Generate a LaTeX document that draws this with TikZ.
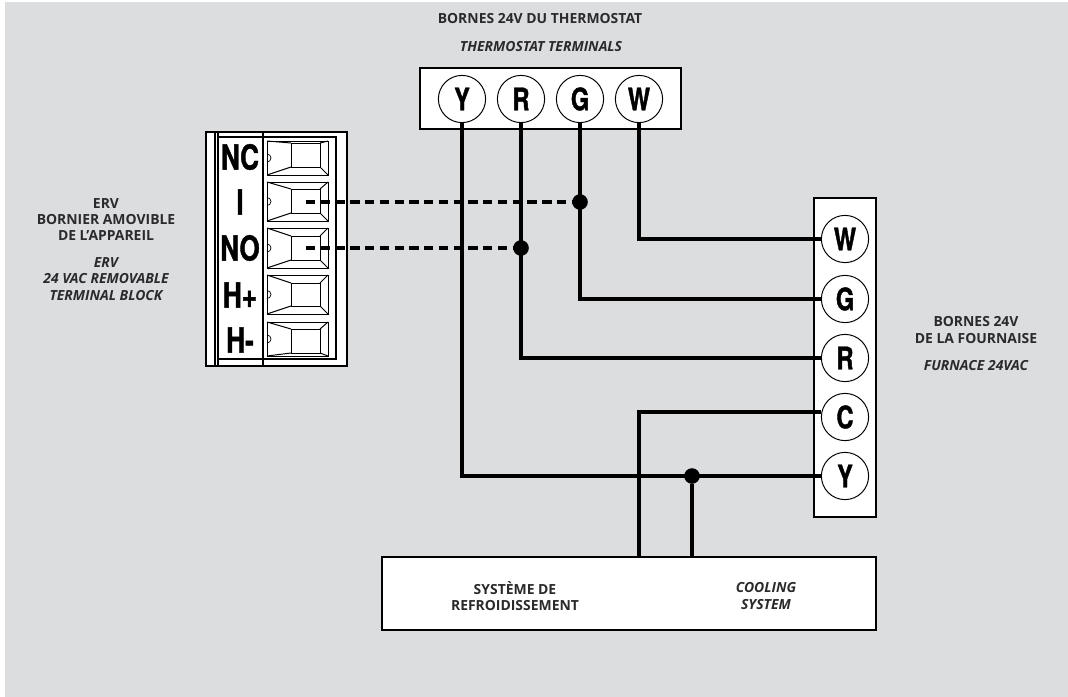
\documentclass[tikz,border=0pt]{standalone}
\usepackage{fontspec}
\setmainfont{Open Sans}
\newfontfamily\termfont[FakeStretch=0.76,FakeBold=1.2]{TeX Gyre Heros}
\usepackage{tikz}
\usetikzlibrary{positioning}

\definecolor{panelgrey}{HTML}{DCDDDF}
\definecolor{labelgrey}{HTML}{2A2A2C}
\tikzset{
	wire/.style={line width=2.2pt},
	dashwire/.style={line width=2.2pt,dash pattern=on 6.6pt off 3.9pt},
	panel/.style={draw,fill=white,line width=1.1pt,inner sep=0pt},
	termcircle/.style={circle,draw,fill=white,line width=0.7pt,minimum size=1.18cm,inner sep=0pt,font=\termfont\bfseries\fontsize{22}{22}\selectfont},
	blocklabel/.style={inner sep=0pt,font=\termfont\bfseries\fontsize{24.5}{24.5}\selectfont},
	junction/.style={circle,fill=black,minimum size=0.39cm,inner sep=0pt},
	caption/.style={align=center,inner sep=0pt,text=labelgrey,font=\bfseries\fontsize{9.9}{11.7}\selectfont},
	captionit/.style={caption,font=\bfseries\itshape\fontsize{9.9}{11.7}\selectfont},
}

\begin{document}
\begin{tikzpicture}[x=0.025cm,y=-0.025cm]
	\fill[white] (0,0) rectangle (1068,697);
	\fill[panelgrey] (5,2) rectangle (1068,697);

	% thermostat
	\node[panel,minimum width=6.525cm,minimum height=1.525cm] (thermostat) at (550.5,98.5) {};
	\foreach \n/\x in {Y/462,R/521,G/580,W/639} {
		\node[termcircle] (t\n) at (\x,99) {\n};
	}

	% furnace
	\node[panel,minimum width=1.55cm,minimum height=7.975cm] (furnace) at (845,357.5) {};
	\foreach \n/\y in {W/239,G/299,R/358,C/417,Y/476} {
		\node[termcircle] (f\n) at (845,\y) {\n};
	}

	% cooling
	\node[panel,minimum width=12.35cm,minimum height=1.825cm] (cooling) at (629,593.5) {};
	\node[caption] (coolfr) at (515,596) {SYSTÈME DE\\REFROIDISSEMENT};
	\node[captionit] (coolen) at (766,596) {COOLING\\SYSTEM};

	% removable block
	\draw[fill=white,line width=0.9pt] (206,132) rectangle (347,366);
	\draw[line width=1.1pt] (218,137) rectangle (336,359);
	\draw[line width=0.9pt] (215,132) -- (215,366);
	\draw[line width=0.9pt] (218,132) -- (218,366);
	\draw[line width=1.8pt] (263,132) -- (263,366);
	\foreach \a/\b/\c/\d in {141/175/143/167,182/221/189/213,228/268/236/260,275/314/283/306,322/356/329/353} {
		\draw[line width=0.7pt] (267,\a) rectangle (328,\b);
		\draw[line width=0.7pt] (291,\c) rectangle (320,\d);
		\draw[line width=0.7pt] (267,\a) -- (291,\c);
		\draw[line width=0.7pt] (267,\b) -- (291,\d);
		\draw[line width=0.7pt] (328,\a) -- (320,\c);
		\draw[line width=0.7pt] (328,\b) -- (320,\d);
		\draw[line width=0.5pt] (267,{(\a+\b)/2-4}) arc (90:-90:0.1cm);
	}
	\foreach \n/\t/\y in {nc/NC/157,i/I/202,no/NO/248,hp/H+/295,hm/H-/340} {
		\node[blocklabel] (\n) at (240,\y) {\t};
	}
	\coordinate (iend) at (306,202);
	\coordinate (noend) at (306,248);

	% junctions
	\node[junction] (dotG) at (580,202) {};
	\node[junction] (dotR) at (521,248) {};
	\node[junction] (dotY) at (692,476) {};
	\coordinate (coolC) at (639,557);

	% wires
	\draw[wire] (tW) |- (fW);
	\draw[wire] (tG) |- (fG);
	\draw[wire] (tR) |- (fR);
	\draw[wire] (tY) |- (fY);
	\draw[wire] (coolC) |- (fC.168);
	\draw[wire] (dotY) -- (dotY |- cooling.north);
	\draw[dashwire] (iend) -- (dotG);
	\draw[dashwire] (noend) -- (dotR);

	% captions
	\node[caption] (thermfr) at (540,19) {BORNES 24V DU THERMOSTAT};
	\node[captionit] (thermen) at (541,47) {THERMOSTAT TERMINALS};
	\node[caption] (erfr) at (106,219.5) {ERV\\BORNIER AMOVIBLE\\DE L’APPAREIL};
	\node[captionit] (eren) at (106,279) {ERV\\24 VAC REMOVABLE\\TERMINAL BLOCK};
	\node[caption] (furnfr) at (976,330) {BORNES 24V\\DE LA FOURNAISE};
	\node[captionit] (furnen) at (976,366) {FURNACE 24VAC};
\end{tikzpicture}
\end{document}
